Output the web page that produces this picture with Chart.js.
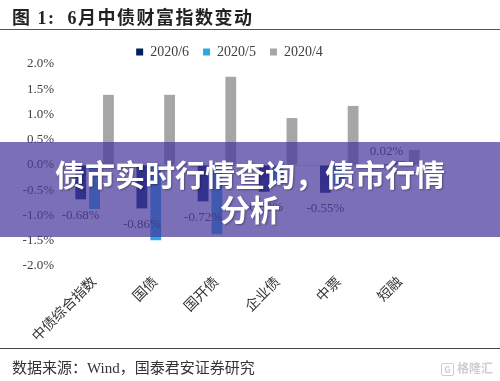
<!DOCTYPE html>
<html>
<head>
<meta charset="utf-8">
<script src="https://cdn.jsdelivr.net/npm/chart.js@4/dist/chart.umd.min.js"></script>
<style>
html,body{margin:0;padding:0;background:#fff;width:500px;height:381px;overflow:hidden;}
#wrap{position:relative;width:500px;height:381px;}
#c{position:absolute;left:0;top:0;}
.title{position:absolute;left:12px;top:3px;font:bold 18px "Liberation Serif","Noto Sans CJK SC";letter-spacing:1.5px;color:#222;white-space:nowrap;}
.topline{position:absolute;left:0;top:29px;width:500px;height:1px;background:#555;}
.botline{position:absolute;left:0;top:348px;width:500px;height:1px;background:#444;}
.footer{position:absolute;left:12px;top:356px;font:15px "Liberation Serif","Noto Sans CJK SC";color:#333;white-space:nowrap;}
.wm{position:absolute;left:441px;top:359px;font:bold 12px "Noto Sans CJK SC";color:#cfcfcf;white-space:nowrap;}
.wm span{display:inline-block;border:1.5px solid #cfcfcf;border-radius:2px;width:11px;height:11px;line-height:11px;font-size:9px;text-align:center;margin-right:3px;vertical-align:middle;}
.overlay{position:absolute;left:0;top:142px;width:500px;height:95px;background:rgba(72,56,156,0.72);}
.overlay div{position:absolute;left:0;top:14px;width:500px;text-align:center;font:bold 30px "Noto Sans CJK SC";line-height:35px;color:#fff;text-shadow:1px 1px 2px rgba(0,0,0,0.35);}
</style>
</head>
<body>
<div id="wrap">
<canvas id="c" width="500" height="381"></canvas>
<div class="title">图 1:&nbsp; 6月中债财富指数变动</div>
<div class="topline"></div>
<div class="botline"></div>
<div class="footer">数据来源：Wind，国泰君安证券研究</div>
<div class="wm"><span>G</span>格隆汇</div>
<div class="overlay"><div>债市实时行情查询，债市行情<br>分析</div></div>
</div>
<script>
const categories = ['中债综合指数', '国债', '国开债', '企业债', '中票', '短融'];
const seriesNames = ['2020/6', '2020/5', '2020/4'];
const s2020_6 = [-0.68, -0.86, -0.72, -0.53, -0.55, 0.02];
const s2020_5 = [-0.87, -1.49, -1.37, -0.35, -0.40, 0.08];
const s2020_4 = [1.39, 1.39, 1.75, 0.93, 1.17, 0.30];
const yTicks = [-2.0, -1.5, -1.0, -0.5, 0.0, 0.5, 1.0, 1.5, 2.0];
const colors = ['#002060', '#29abe2', '#a6a6a6'];

const labelPlugin = {
  id: 'vlabels',
  afterDatasetsDraw(chart) {
    const ctx = chart.ctx;
    const meta = chart.getDatasetMeta(0);
    ctx.save();
    ctx.font = '13px "Liberation Serif"';
    ctx.fillStyle = '#404040';
    ctx.textAlign = 'center';
    ctx.textBaseline = 'middle';
    meta.data.forEach((bar, i) => {
      const v = s2020_6[i];
      const y = v < 0 ? bar.y + 16 : bar.y - 12;
      ctx.fillText(v.toFixed(2) + '%', bar.x, y);
    });
    ctx.restore();
  }
};

const legendShift = {
  id: 'legendShift',
  afterLayout(chart) {
    if (chart.legend) { chart.legend.right += 28; }
  }
};

new Chart(document.getElementById('c'), {
  type: 'bar',
  data: {
    labels: categories,
    datasets: [
      { label: seriesNames[0], data: s2020_6, backgroundColor: colors[0] },
      { label: seriesNames[1], data: s2020_5, backgroundColor: colors[1] },
      { label: seriesNames[2], data: s2020_4, backgroundColor: colors[2] }
    ]
  },
  options: {
    responsive: false,
    animation: false,
    devicePixelRatio: 1,
    categoryPercentage: 0.68,
    barPercentage: 0.78,
    layout: { padding: { top: 31, left: 0, right: 69, bottom: 33 } },
    plugins: {
      tooltip: { enabled: false },
      legend: {
        position: 'top',
        align: 'center',
        maxHeight: 33,
        labels: {
          boxWidth: 7, boxHeight: 7, padding: 14,
          color: '#404040',
          font: { family: '"Liberation Serif"', size: 14 }
        }
      }
    },
    scales: {
      x: {
        grid: { display: false, drawTicks: false },
        border: { display: false },
        ticks: {
          maxRotation: 45, minRotation: 45, padding: 8,
          color: '#333',
          font: { family: '"Liberation Serif","Noto Sans CJK SC"', size: 14 }
        },
        afterFit(scale) { scale.height = 82; }
      },
      y: {
        min: -2, max: 2,
        afterBuildTicks(scale) { scale.ticks = yTicks.map(v => ({ value: v })); },
        grid: {
          drawTicks: false,
          color: c => (c.tick && c.tick.value === 0) ? '#d9d9d9' : 'rgba(0,0,0,0)'
        },
        border: { display: false },
        ticks: {
          padding: 10,
          color: '#404040',
          font: { family: '"Liberation Serif"', size: 13 },
          callback: v => Number(v).toFixed(1) + '%'
        },
        afterFit(scale) { scale.width = 64; }
      }
    }
  },
  plugins: [labelPlugin, legendShift]
});
</script>
</body>
</html>
